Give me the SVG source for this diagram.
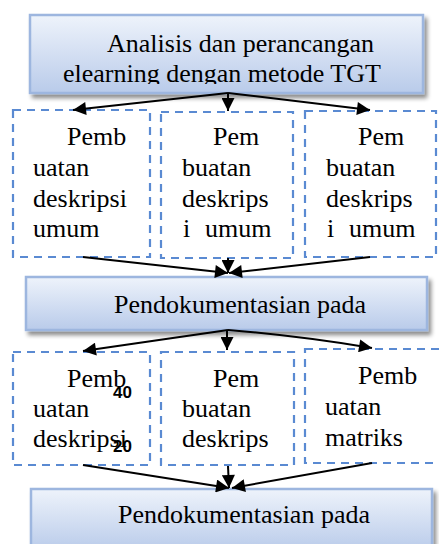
<svg xmlns="http://www.w3.org/2000/svg" width="439" height="544" viewBox="0 0 439 544">
<style>
.t{font-family:"Liberation Serif","Times New Roman",serif;font-size:26px;fill:#000}
.n{font-family:"Liberation Sans",Arial,sans-serif;font-size:17px;font-weight:bold;fill:#000}
.blue{fill:url(#g);stroke:#9db6df;stroke-width:2.5;filter:url(#sh)}
.dash{fill:#fff;stroke:#5a8ad2;stroke-width:2.2;stroke-dasharray:8,6}
.c{stroke:#000;stroke-width:2;fill:none;marker-end:url(#a)}
</style>
<defs>
<linearGradient id="g" x1="0" y1="0" x2="0" y2="1">
<stop offset="0" stop-color="#eef3fb"/>
<stop offset="1" stop-color="#b9cbea"/>
</linearGradient>
<filter id="sh" x="-10%" y="-20%" width="125%" height="150%">
<feGaussianBlur in="SourceAlpha" stdDeviation="2"/>
<feOffset dx="3" dy="4" result="b"/>
<feComponentTransfer><feFuncA type="linear" slope="0.45"/></feComponentTransfer>
<feMerge><feMergeNode/><feMergeNode in="SourceGraphic"/></feMerge>
</filter>
<marker id="a" viewBox="0 0 10 10" refX="10" refY="5" markerWidth="14" markerHeight="13" markerUnits="userSpaceOnUse" orient="auto">
<path d="M0,0 L10,5 L0,10 z" fill="#000"/>
</marker>
<clipPath id="c1"><rect x="30" y="15" width="395" height="69"/></clipPath>
</defs>

<g id="top">
<rect class="blue" x="30" y="15" width="393" height="78"/>
<g clip-path="url(#c1)">
<text class="t" x="107" y="52">Analisis dan perancangan</text>
<text class="t" x="63" y="82">elearning dengan metode TGT</text>
</g>
</g>

<g id="r1b1">
<rect class="dash" x="13" y="110" width="137" height="147"/>
<text class="t" x="67" y="145">Pemb</text>
<text class="t" x="33" y="176">uatan</text>
<text class="t" x="33" y="207">deskripsi</text>
<text class="t" x="33" y="237">umum</text>
</g>
<g id="r1b2">
<rect class="dash" x="161" y="112" width="132" height="146"/>
<text class="t" x="213" y="145">Pem</text>
<text class="t" x="182" y="176">buatan</text>
<text class="t" x="182" y="207">deskrips</text>
<text class="t" y="237"><tspan x="183">i</tspan><tspan x="205">umum</tspan></text>
</g>
<g id="r1b3">
<rect class="dash" x="305" y="111" width="131" height="146"/>
<text class="t" x="358" y="145">Pem</text>
<text class="t" x="326" y="176">buatan</text>
<text class="t" x="326" y="207">deskrips</text>
<text class="t" y="237"><tspan x="327">i</tspan><tspan x="349">umum</tspan></text>
</g>

<g id="mid">
<rect class="blue" x="26" y="277" width="401" height="53"/>
<text class="t" x="114" y="313">Pendokumentasian pada</text>
</g>

<g id="r2b1">
<rect class="dash" x="13" y="352" width="137" height="113"/>
<text class="t" x="67" y="387">Pemb</text>
<text class="t" x="33" y="417">uatan</text>
<text class="t" x="33" y="447">deskripsi</text>
<text class="n" x="113" y="398">40</text>
<text class="n" x="113" y="452">20</text>
</g>
<g id="r2b2">
<rect class="dash" x="161" y="352" width="133" height="113"/>
<text class="t" x="213" y="387">Pem</text>
<text class="t" x="182" y="417">buatan</text>
<text class="t" x="182" y="447">deskrips</text>
</g>
<g id="r2b3">
<rect class="dash" x="305" y="349" width="140" height="114"/>
<text class="t" x="358" y="384">Pemb</text>
<text class="t" x="325" y="415">uatan</text>
<text class="t" x="325" y="446">matriks</text>
</g>

<g id="bottom">
<rect class="blue" x="31" y="489" width="401" height="62"/>
<text class="t" x="118" y="523">Pendokumentasian pada</text>
</g>

<g id="connectors">
<line class="c" x1="228" y1="93" x2="73" y2="110"/>
<line class="c" x1="228" y1="93" x2="228" y2="111"/>
<line class="c" x1="228" y1="93" x2="370" y2="110"/>
<line class="c" x1="83" y1="257" x2="228" y2="273"/>
<line class="c" x1="228" y1="258" x2="228" y2="273"/>
<line class="c" x1="370" y1="257" x2="229" y2="273"/>
<line class="c" x1="228" y1="330" x2="83" y2="351"/>
<line class="c" x1="227" y1="330" x2="227" y2="350"/>
<path class="c" d="M228,330 Q300,336 372,348"/>
<line class="c" x1="83" y1="465" x2="229" y2="488"/>
<line class="c" x1="228" y1="466" x2="229" y2="488"/>
<line class="c" x1="372" y1="463" x2="232" y2="488"/>
</g>
</svg>
